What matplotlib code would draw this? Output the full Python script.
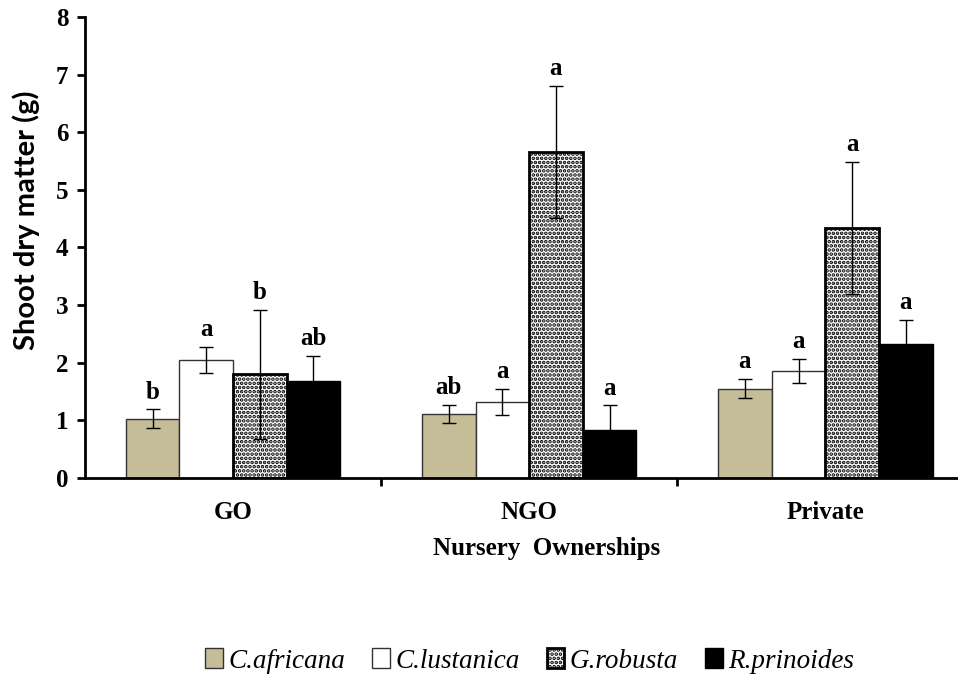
import matplotlib.pyplot as plt
import numpy as np

# shoot dry matter by nursery ownership
groups = ['GO', 'NGO', 'Private']
species = ['C.africana', 'C.lustanica', 'G.robusta', 'R.prinoides']
means = [
    [1.03, 1.11, 1.55],   # C.africana
    [2.05, 1.32, 1.86],   # C.lustanica
    [1.80, 5.66, 4.34],   # G.robusta
    [1.69, 0.84, 2.33],   # R.prinoides
]
errs = [
    [0.16, 0.16, 0.17],
    [0.22, 0.22, 0.21],
    [1.12, 1.15, 1.14],
    [0.43, 0.42, 0.42],
]
letters = [
    ['b', 'ab', 'a'],
    ['a', 'a', 'a'],
    ['b', 'a', 'a'],
    ['ab', 'a', 'a'],
]

colors = ['#C4BD97', 'white', 'white', 'black']
hatches = [None, None, '....', None]
edges = ['#333333', '#333333', 'black', 'black']
lws = [1.0, 1.0, 2.0, 1.0]

plt.rcParams['hatch.linewidth'] = 1.8
serif = ['Liberation Serif', 'DejaVu Serif']

fig = plt.figure(figsize=(9.58, 6.76), dpi=100)
ax = fig.add_axes([0.0887, 0.2929, 0.915, 0.682])

x = np.arange(len(groups))
w = 0.181
for i, sp in enumerate(species):
    pos = x + (i - 1.5) * w
    ax.bar(pos, means[i], w, color=colors[i], hatch=hatches[i],
           edgecolor=edges[i], linewidth=lws[i], label=sp, zorder=2)
    ax.errorbar(pos, means[i], yerr=errs[i], fmt='none', ecolor='black',
                elinewidth=1.0, capsize=4.7, capthick=1.0, zorder=3)
    for j in range(len(groups)):
        ax.text(pos[j], means[i][j] + errs[i][j] + 0.1, letters[i][j],
                ha='center', va='bottom', fontsize=18, fontweight='bold',
                family=serif)

ax.set_xlim(-0.5, 2.46)
ax.set_ylim(0, 8)
ax.set_yticks(range(9))
ax.set_xticks([0.5, 1.5])
ax.set_xticklabels([])
ax.tick_params(axis='x', length=6, width=2, direction='out')
ax.tick_params(axis='y', length=6, width=2, direction='out', pad=6)
for lab in ax.get_yticklabels():
    lab.set_fontfamily(serif)
    lab.set_fontweight('bold')
    lab.set_fontsize(18)
for j, g in enumerate(groups):
    ax.text(x[j], -0.4, g, ha='center', va='top', fontsize=18,
            fontweight='bold', family=serif)

ax.spines['top'].set_visible(False)
ax.spines['right'].set_visible(False)
ax.spines['left'].set_linewidth(2)
ax.spines['bottom'].set_linewidth(2)

ax.text(0.5 * (x[0] + x[-1]) + 0.06, -1.03, 'Nursery  Ownerships', ha='center',
        va='top', fontsize=18, fontweight='bold', family=serif)
ax.set_ylabel('Shoot dry matter (g)', fontsize=21, fontweight='bold',
              family=['Lato', 'DejaVu Sans'])
ax.yaxis.set_label_coords(-0.051, 0.56)

leg = fig.legend(loc='center', bbox_to_anchor=(0.553, 0.022), ncol=4,
                 frameon=False, handlelength=0.65, handleheight=0.75,
                 handletextpad=0.2, columnspacing=1.0,
                 prop={'family': serif, 'style': 'italic', 'size': 19.5})

fig.savefig('out.png', dpi=100)
